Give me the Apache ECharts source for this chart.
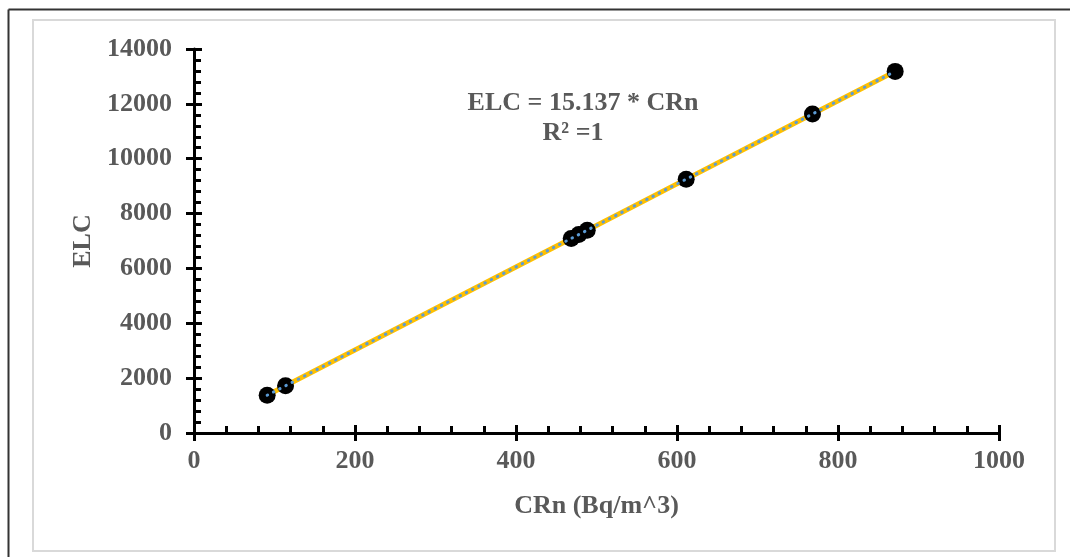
<!DOCTYPE html>
<html>
<head>
<meta charset="utf-8">
<script src="https://cdn.jsdelivr.net/npm/echarts@6/dist/echarts.min.js"></script>
<style>
  html, body { margin: 0; padding: 0; background: #fff; }
  #elcchart { width: 1070px; height: 557px; }
</style>
</head>
<body>
<div id="elcchart"></div>
<script>
// CRn (Bq/m^3) vs ELC
var crnValues = [90.9, 113.7, 468.6, 478, 488.5, 611.4, 768.3, 871];
var elcValues = [1376, 1721, 7093, 7236, 7394, 9255, 11630, 13184];
// linear trendline ends
var trendX = [90.9, 871];
var trendY = [1376, 13184];
var xTicks = [0, 200, 400, 600, 800, 1000];
var yTicks = [0, 2000, 4000, 6000, 8000, 10000, 12000, 14000];
var eqText = 'ELC = 15.137 * CRn';
var r2Text = 'R² =1';

var pts = [];
for (var i = 0; i < crnValues.length; i++) {
    pts.push([crnValues[i], elcValues[i]]);
}
var trend = [];
for (var i = 0; i < trendX.length; i++) {
    trend.push([trendX[i], trendY[i]]);
}

var font = '"Liberation Serif", "Times New Roman", serif';
var grey = '#595959';
var gridBox = { left: 194, right: 71, top: 49, bottom: 124 };

function plain(v) { return String(v); }

var elcChart = echarts.init(document.getElementById('elcchart'));
var option = {
    backgroundColor: '#FFFFFF',
    animation: false,
    grid: [
        { left: gridBox.left, right: gridBox.right, top: gridBox.top, bottom: gridBox.bottom },
        { left: gridBox.left, right: gridBox.right, top: gridBox.top, bottom: gridBox.bottom }
    ],
    xAxis: [
        {
            type: 'value', gridIndex: 0,
            min: xTicks[0], max: xTicks[xTicks.length - 1], interval: 200,
            name: 'CRn (Bq/m^3)', nameLocation: 'middle', nameGap: 60,
            nameTextStyle: { fontFamily: font, fontWeight: 'bold', fontSize: 26, color: grey },
            axisLine: { lineStyle: { color: '#000', width: 3 } },
            axisTick: { inside: true, length: 8, lineStyle: { color: '#000', width: 3 } },
            minorTick: { show: true, splitNumber: 5, length: 7, lineStyle: { color: '#000', width: 3 } },
            axisLabel: { fontFamily: font, fontWeight: 'bold', fontSize: 26, color: grey, margin: 15, formatter: plain },
            splitLine: { show: false }
        },
        {
            type: 'value', gridIndex: 1,
            min: xTicks[0], max: xTicks[xTicks.length - 1], interval: 200,
            axisLine: { show: false },
            axisTick: { inside: false, length: 8, lineStyle: { color: '#000', width: 3 } },
            axisLabel: { show: false },
            splitLine: { show: false }
        }
    ],
    yAxis: [
        {
            type: 'value', gridIndex: 0,
            min: yTicks[0], max: yTicks[yTicks.length - 1], interval: 2000,
            name: 'ELC', nameLocation: 'middle', nameGap: 98,
            nameTextStyle: { fontFamily: font, fontWeight: 'bold', fontSize: 26, color: grey },
            axisLine: { show: true, lineStyle: { color: '#000', width: 3 } },
            axisTick: { show: true, inside: true, length: 8, lineStyle: { color: '#000', width: 3 } },
            minorTick: { show: true, splitNumber: 5, length: 7, lineStyle: { color: '#000', width: 3 } },
            axisLabel: { fontFamily: font, fontWeight: 'bold', fontSize: 26, color: grey, margin: 22, formatter: plain },
            splitLine: { show: false }
        },
        {
            type: 'value', gridIndex: 1,
            min: yTicks[0], max: yTicks[yTicks.length - 1], interval: 2000,
            axisLine: { show: false },
            axisTick: { show: true, inside: false, length: 8, lineStyle: { color: '#000', width: 3 } },
            axisLabel: { show: false },
            splitLine: { show: false }
        }
    ],
    series: [
        {
            name: 'data line',
            type: 'line',
            data: pts,
            showSymbol: false,
            lineStyle: { color: '#FFC000', width: 5 },
            z: 2
        },
        {
            name: 'ELC',
            type: 'scatter',
            data: pts,
            symbolSize: 17,
            itemStyle: { color: '#000', opacity: 1 },
            z: 3
        },
        {
            name: 'trend',
            type: 'line',
            data: trend,
            showSymbol: false,
            lineStyle: { color: '#5B9BD5', width: 3, type: [0.5, 6.5], cap: 'round' },
            z: 4
        }
    ],
    graphic: [
        { type: 'line', shape: { x1: 8.5, y1: 9.5, x2: 1070, y2: 9.5 }, style: { stroke: '#333', lineWidth: 2 } },
        { type: 'line', shape: { x1: 8.5, y1: 9.5, x2: 8.5, y2: 557 }, style: { stroke: '#333', lineWidth: 2 } },
        { type: 'rect', shape: { x: 33, y: 20, width: 1022, height: 531 }, style: { fill: 'none', stroke: '#d9d9d9', lineWidth: 2 }, z: -1 },
        {
            type: 'text', x: 583, y: 103,
            style: { text: eqText, font: 'bold 26px ' + font, fill: grey, align: 'center', verticalAlign: 'middle' }
        },
        {
            type: 'text', x: 573, y: 133,
            style: { text: r2Text, font: 'bold 26px ' + font, fill: grey, align: 'center', verticalAlign: 'middle' }
        }
    ]
};
elcChart.setOption(option);
</script>
</body>
</html>
